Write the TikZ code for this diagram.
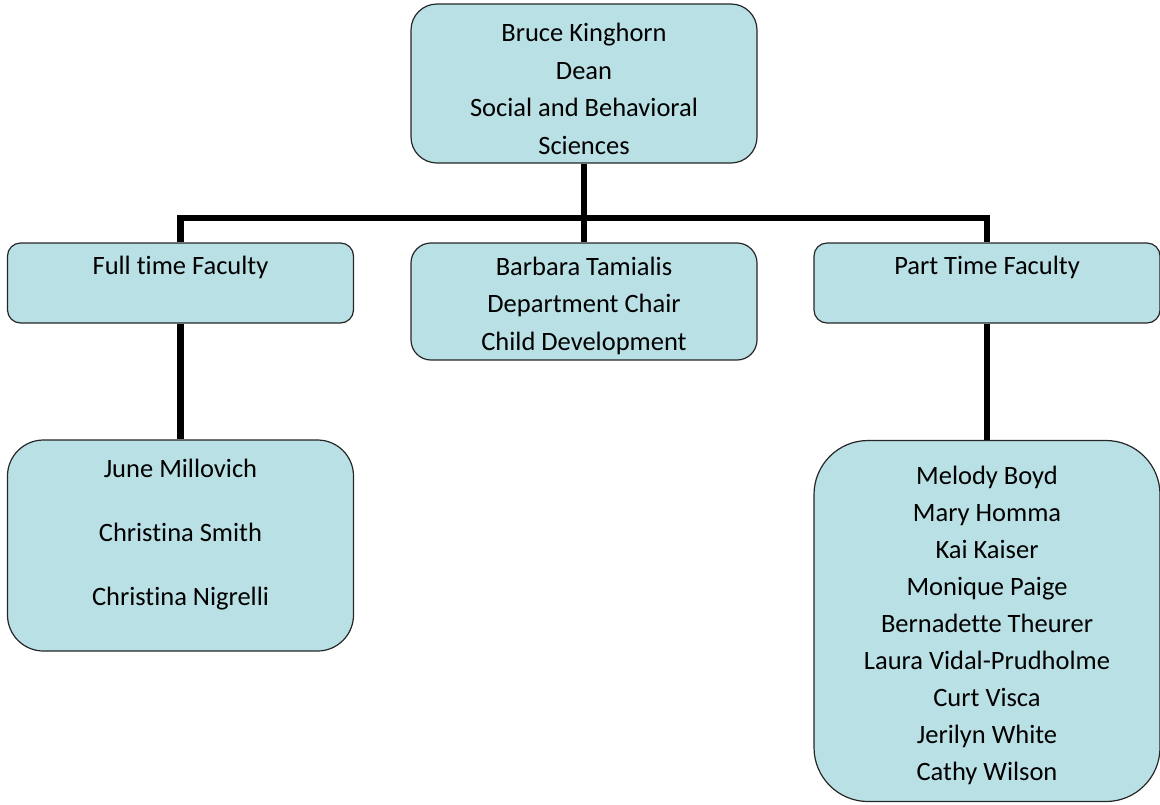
\documentclass[tikz,border=0pt]{standalone}
\usepackage{fontspec}
\setmainfont{Carlito}[Ligatures=NoCommon]
\definecolor{boxfill}{RGB}{185,224,228}

\begin{document}
\begin{tikzpicture}[
  box/.style={rectangle, draw=black!85, line width=0.6pt, fill=boxfill, inner sep=0pt, minimum width=173pt, align=center, font=\fontsize{13.25}{18.75}\selectfont},
  link/.style={line width=3.25pt},
  node distance=109pt
]
\useasboundingbox (0,0) rectangle (580pt,-402pt);
\node[box, minimum height=79.5pt, rounded corners=13pt, text height=71pt] (dean) at (292pt,-41.75pt) {Bruce Kinghorn\\Dean\\Social and Behavioral\\Sciences};
\node[box, minimum height=58.5pt, rounded corners=10pt, text height=50.8pt, below of=dean] (chair) {Barbara Tamialis\\Department Chair\\Child Development};
\node[box, minimum height=40pt, rounded corners=6.5pt, text depth=18pt, left of=chair, node distance=201.75pt, yshift=9.25pt] (ftf) {Full time Faculty};
\node[box, minimum height=40pt, rounded corners=6.5pt, text depth=18pt, right of=chair, node distance=201.5pt, yshift=9.25pt] (ptf) {Part Time Faculty};
\node[box, minimum height=105.5pt, rounded corners=18pt, text depth=13pt, font=\fontsize{13.25}{32}\selectfont, below of=ftf, node distance=131.25pt] (ftlist) {June Millovich\\Christina Smith\\Christina Nigrelli};
\node[box, minimum height=180.5pt, rounded corners=27pt, text height=161.3pt, font=\fontsize{13.25}{18.5}\selectfont, below of=ptf, node distance=169pt] (ptlist) {Melody Boyd\\Mary Homma\\Kai Kaiser\\Monique Paige\\Bernadette Theurer\\Laura Vidal-Prudholme\\Curt Visca\\Jerilyn White\\Cathy Wilson};
\coordinate[below of=dean, node distance=67.25pt] (bar);

\draw[link] (dean) -- (chair);
\draw[link] (ftf) |- (bar) -| (ptf);
\draw[link] (ftf) -- (ftlist);
\draw[link] (ptf) -- (ptlist);
\end{tikzpicture}
\end{document}
